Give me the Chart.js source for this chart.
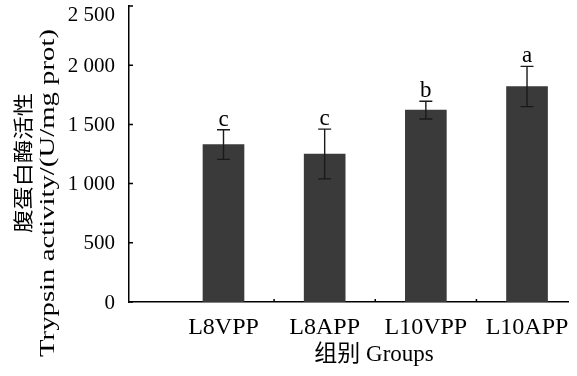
<!DOCTYPE html>
<html>
<head>
<meta charset="utf-8">
<script src="https://cdn.jsdelivr.net/npm/chart.js@4/dist/chart.umd.min.js"></script>
<style>
  html, body { margin: 0; padding: 0; background: #fff; }
  #wrap { width: 577px; height: 376px; }
</style>
</head>
<body>
<div id="wrap"><canvas id="trypsin"></canvas></div>
<script>
const groups = ["L8VPP", "L8APP", "L10VPP", "L10APP"];
const groupPos = [1, 2, 3, 4];
const means = [1330, 1250, 1620, 1820];
const errors = [125, 210, 75, 170];
const letters = ["c", "c", "b", "a"];
const yTicks = [0, 500, 1000, 1500, 2000, 2500];
const xMinorTicks = [1.5, 2.5, 3.5];

const serif = "'Liberation Serif', 'Noto Sans CJK SC', serif";

function fmt(v) {
    if (v >= 1000) {
        let s = String(v);
        return s.slice(0, s.length - 3) + " " + s.slice(s.length - 3);
    }
    return String(v);
}

// error bars, letters, inward ticks, axis labels and titles
const extras = {
    id: "extras",
    afterDatasetsDraw(chart) {
        const ctx = chart.ctx;
        const x = chart.scales.x;
        const y = chart.scales.y;
        ctx.save();
        ctx.strokeStyle = "#1a1a1a";
        ctx.lineWidth = 1.4;
        means.forEach((m, i) => {
            let px = x.getPixelForValue(groupPos[i]);
            let top = y.getPixelForValue(m + errors[i]);
            let bot = y.getPixelForValue(m - errors[i]);
            ctx.beginPath();
            ctx.moveTo(px, top);
            ctx.lineTo(px, bot);
            ctx.moveTo(px - 6.5, top);
            ctx.lineTo(px + 6.5, top);
            ctx.moveTo(px - 6.5, bot);
            ctx.lineTo(px + 6.5, bot);
            ctx.stroke();
            ctx.fillStyle = "#000";
            ctx.font = "23px " + serif;
            ctx.textAlign = "center";
            ctx.textBaseline = "alphabetic";
            ctx.fillText(letters[i], px, top - 4);
        });
        ctx.restore();
    },
    afterDraw(chart) {
        const ctx = chart.ctx;
        const x = chart.scales.x;
        const y = chart.scales.y;
        const area = chart.chartArea;
        ctx.save();
        ctx.strokeStyle = "#000";
        ctx.lineWidth = 1.5;
        ctx.beginPath();
        yTicks.forEach((t) => {
            let py = y.getPixelForValue(t);
            ctx.moveTo(area.left, py);
            ctx.lineTo(area.left + 4, py);
        });
        xMinorTicks.forEach((t) => {
            let px = x.getPixelForValue(t);
            ctx.moveTo(px, area.bottom);
            ctx.lineTo(px, area.bottom - 3);
        });
        ctx.stroke();

        // y tick labels
        ctx.fillStyle = "#000";
        ctx.font = "21px " + serif;
        ctx.textAlign = "right";
        ctx.textBaseline = "middle";
        yTicks.forEach((t) => {
            let py = Math.max(y.getPixelForValue(t) + 1, 15);
            ctx.fillText(fmt(t), 115, py);
        });

        // y title, two lines
        const drawRot = (text, cx, cy, len, font) => {
            ctx.save();
            ctx.font = font;
            let w = ctx.measureText(text).width;
            ctx.translate(cx, cy);
            ctx.rotate(-Math.PI / 2);
            ctx.scale(len / w, 1);
            ctx.textAlign = "center";
            ctx.textBaseline = "middle";
            ctx.fillText(text, 0, 0);
            ctx.restore();
        };
        drawRot("腹蛋白酶活性", 23, 163, 140, "20px 'Noto Sans CJK SC'");
        drawRot("Trypsin activity/(U/mg prot)", 49, 193, 328, "20px " + serif);

        // x title
        ctx.font = "23px " + serif;
        ctx.textAlign = "center";
        ctx.textBaseline = "middle";
        ctx.fillText("组别 Groups", 374, 355);
        ctx.restore();
    },
};

new Chart(document.getElementById("trypsin"), {
    type: "bar",
    data: {
        datasets: [
            {
                data: groupPos.map((p, i) => ({ x: p, y: means[i] })),
                backgroundColor: "#3a3a3a",
                borderWidth: 0,
                barThickness: 41,
            },
        ],
    },
    options: {
        responsive: true,
        maintainAspectRatio: false,
        animation: false,
        devicePixelRatio: 1,
        layout: { padding: { top: 6, right: 9, left: 0, bottom: 0 } },
        plugins: {
            legend: { display: false },
            tooltip: { enabled: false },
        },
        scales: {
            x: {
                type: "linear",
                offset: false,
                min: 0.066,
                max: 4.405,
                grid: { display: false, offset: false },
                border: { display: true, color: "#000", width: 1.5 },
                afterBuildTicks: (scale) => {
                    scale.ticks = groupPos.map((v) => ({ value: v }));
                },
                afterFit: (scale) => {
                    scale.height = 74;
                },
                ticks: {
                    autoSkip: false,
                    maxRotation: 0,
                    padding: 3,
                    color: "#000",
                    font: { family: serif, size: 24 },
                    callback: (v, i) => groups[i],
                },
            },
            y: {
                min: 0,
                max: 2500,
                grid: { display: false },
                border: { display: true, color: "#000", width: 1.5 },
                afterBuildTicks: (scale) => {
                    scale.ticks = yTicks.map((v) => ({ value: v }));
                },
                afterFit: (scale) => {
                    scale.width = 129;
                },
                ticks: { display: false },
            },
        },
    },
    plugins: [extras],
});
</script>
</body>
</html>
